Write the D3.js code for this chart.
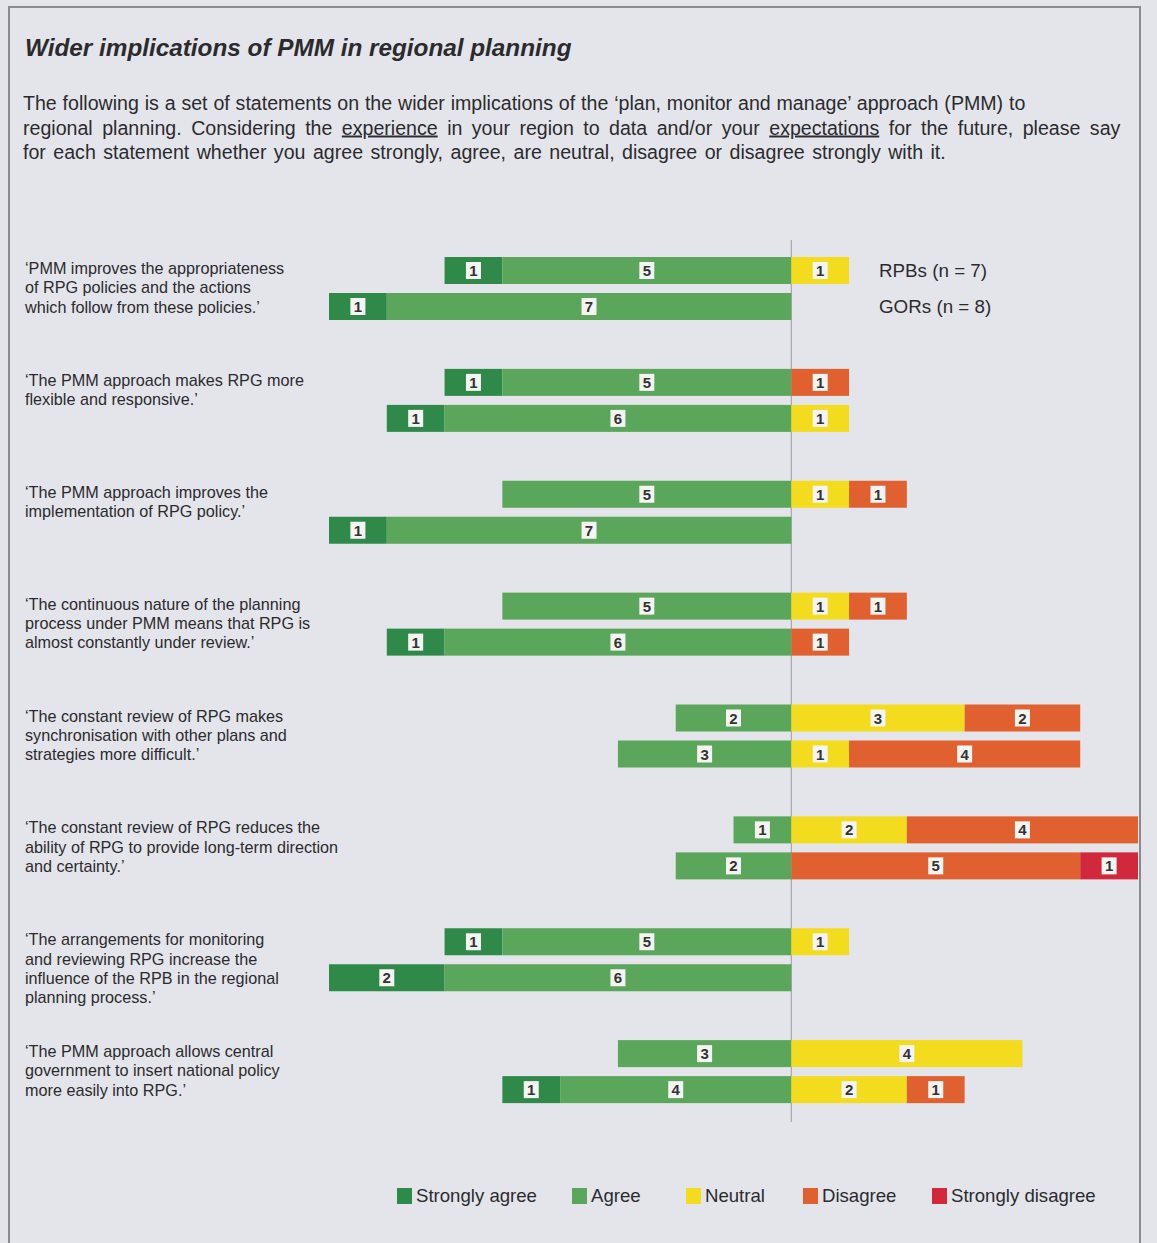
<!DOCTYPE html>
<html>
<head>
<meta charset="utf-8">
<script src="https://cdn.jsdelivr.net/npm/d3@7"></script>
<style>
  body { margin: 0; background: #e4e5ea; }
  svg { display: block; font-family: "Liberation Sans", Arial, sans-serif; }
</style>
</head>
<body>
<script>
// statements (one per group), each one split into the lines shown
var statements = [
  ["\u2018PMM improves the appropriateness", "of RPG policies and the actions", "which follow from these policies.\u2019"],
  ["\u2018The PMM approach makes RPG more", "flexible and responsive.\u2019"],
  ["\u2018The PMM approach improves the", "implementation of RPG policy.\u2019"],
  ["\u2018The continuous nature of the planning", "process under PMM means that RPG is", "almost constantly under review.\u2019"],
  ["\u2018The constant review of RPG makes", "synchronisation with other plans and", "strategies more difficult.\u2019"],
  ["\u2018The constant review of RPG reduces the", "ability of RPG to provide long-term direction", "and certainty.\u2019"],
  ["\u2018The arrangements for monitoring", "and reviewing RPG increase the", "influence of the RPB in the regional", "planning process.\u2019"],
  ["\u2018The PMM approach allows central", "government to insert national policy", "more easily into RPG.\u2019"]
];

var responses = ["Strongly agree", "Agree", "Neutral", "Disagree", "Strongly disagree"];
var colours = ["#2f8a49", "#5aa65b", "#f3db1d", "#e0612f", "#d2283b"];
var groups = ["RPB", "GOR"];
var groupLabels = ["RPBs (n = 7)", "GORs (n = 8)"];

// counts per statement: [strongly agree, agree, neutral, disagree, strongly disagree]
var rpb = [
  [1, 5, 1, 0, 0],
  [1, 5, 0, 1, 0],
  [0, 5, 1, 1, 0],
  [0, 5, 1, 1, 0],
  [0, 2, 3, 2, 0],
  [0, 1, 2, 4, 0],
  [1, 5, 1, 0, 0],
  [0, 3, 4, 0, 0]
];
var gor = [
  [1, 7, 0, 0, 0],
  [1, 6, 1, 0, 0],
  [1, 7, 0, 0, 0],
  [1, 6, 0, 1, 0],
  [0, 3, 1, 4, 0],
  [0, 2, 0, 5, 1],
  [2, 6, 0, 0, 0],
  [1, 4, 2, 1, 0]
];

var width = 1157, height = 1243;

var svg = d3.select("body").append("svg")
  .attr("width", width)
  .attr("height", height);

// frame of the box
svg.append("path")
  .attr("d", "M9," + height + "V7H1140V" + height)
  .attr("fill", "none")
  .attr("stroke", "#8a8b90")
  .attr("stroke-width", 2);

svg.append("text")
  .attr("x", 25).attr("y", 56)
  .attr("font-size", 24.3)
  .attr("font-weight", "bold")
  .attr("font-style", "italic")
  .attr("fill", "#2b2b2e")
  .text("Wider implications of PMM in regional planning");

var intro = svg.append("text")
  .attr("x", 23).attr("y", 110)
  .attr("font-size", 19.6)
  .attr("fill", "#2b2b2e");
intro.append("tspan").attr("x", 23).attr("word-spacing", 0.4)
  .text("The following is a set of statements on the wider implications of the \u2018plan, monitor and manage\u2019 approach (PMM) to");
var l2 = intro.append("tspan").attr("x", 23).attr("dy", 24.5).attr("word-spacing", 4);
l2.append("tspan").text("regional planning. Considering the ");
l2.append("tspan").attr("text-decoration", "underline").text("experience");
l2.append("tspan").text(" in your region to data and/or your ");
l2.append("tspan").attr("text-decoration", "underline").text("expectations");
l2.append("tspan").text(" for the future, please say");
intro.append("tspan").attr("x", 23).attr("dy", 24.5).attr("word-spacing", 2)
  .text("for each statement whether you agree strongly, agree, are neutral, disagree or disagree strongly with it.");

// scales
var x = d3.scaleLinear().domain([-8, 6]).range([329, 1138]);
var y = d3.scaleBand().domain(d3.range(statements.length)).range([257, 1152]);
var yInner = d3.scaleBand().domain(groups).range([0, 63]).paddingInner(0.25);
var colour = d3.scaleOrdinal().domain(responses).range(colours);

// centre line
svg.append("line")
  .attr("x1", x(0)).attr("x2", x(0))
  .attr("y1", 240).attr("y2", 1122)
  .attr("stroke", "#9a9ba0")
  .attr("stroke-width", 1);

// turn counts into segments: agree side to the left of zero, the rest to the right
var toSegments = function(counts) {
  var segs = [];
  var pos = -(counts[0] + counts[1]);
  counts.forEach(function(v, i) {
    if (v > 0) segs.push({ key: responses[i], value: v, x0: pos, x1: pos + v });
    pos += v;
  });
  return segs;
};

var rows = [];
statements.forEach(function(s, i) {
  rows.push({ stmt: i, group: "RPB", segs: toSegments(rpb[i]) });
  rows.push({ stmt: i, group: "GOR", segs: toSegments(gor[i]) });
});

var row = svg.selectAll(".row").data(rows).enter().append("g")
  .attr("class", "row")
  .attr("transform", function(d) {
    return "translate(0," + (y(d.stmt) + yInner(d.group)) + ")";
  });

var seg = row.selectAll(".seg").data(function(d) { return d.segs; }).enter().append("g")
  .attr("class", "seg");

seg.append("rect")
  .attr("x", function(d) { return x(d.x0); })
  .attr("width", function(d) { return x(d.x1) - x(d.x0); })
  .attr("height", yInner.bandwidth())
  .attr("fill", function(d) { return colour(d.key); });

seg.append("rect")
  .attr("x", function(d) { return (x(d.x0) + x(d.x1)) / 2 - 7.5; })
  .attr("y", yInner.bandwidth() / 2 - 8.5)
  .attr("width", 15)
  .attr("height", 17)
  .attr("fill", "#f4f4f2");

seg.append("text")
  .attr("x", function(d) { return (x(d.x0) + x(d.x1)) / 2; })
  .attr("y", yInner.bandwidth() / 2 + 5.5)
  .attr("text-anchor", "middle")
  .attr("font-size", 15)
  .attr("font-weight", "bold")
  .attr("fill", "#333")
  .text(function(d) { return d.value; });

// statement texts
svg.selectAll(".stmt").data(statements).enter().append("text")
  .attr("class", "stmt")
  .attr("font-size", 16.2)
  .attr("fill", "#2b2b2e")
  .each(function(lines, i) {
    var t = d3.select(this);
    lines.forEach(function(line, j) {
      t.append("tspan")
        .attr("x", 25)
        .attr("y", y(i) + 17 + j * 19.3)
        .text(line);
    });
  });

// group labels beside the first statement
svg.selectAll(".glabel").data(groupLabels).enter().append("text")
  .attr("class", "glabel")
  .attr("x", 879)
  .attr("y", function(d, i) { return y(0) + yInner(groups[i]) + yInner.bandwidth() / 2 + 6; })
  .attr("font-size", 18.8)
  .attr("fill", "#2b2b2e")
  .text(function(d) { return d; });

// legend
var legendX = [397, 572, 686, 803, 932];
var legend = svg.selectAll(".legend").data(responses).enter().append("g")
  .attr("class", "legend")
  .attr("transform", function(d, i) { return "translate(" + legendX[i] + ",1188)"; });

legend.append("rect")
  .attr("width", 15).attr("height", 16)
  .attr("fill", function(d) { return colour(d); });

legend.append("text")
  .attr("x", 19).attr("y", 14)
  .attr("font-size", 18.6)
  .attr("fill", "#2b2b2e")
  .text(function(d) { return d; });
</script>
</body>
</html>
